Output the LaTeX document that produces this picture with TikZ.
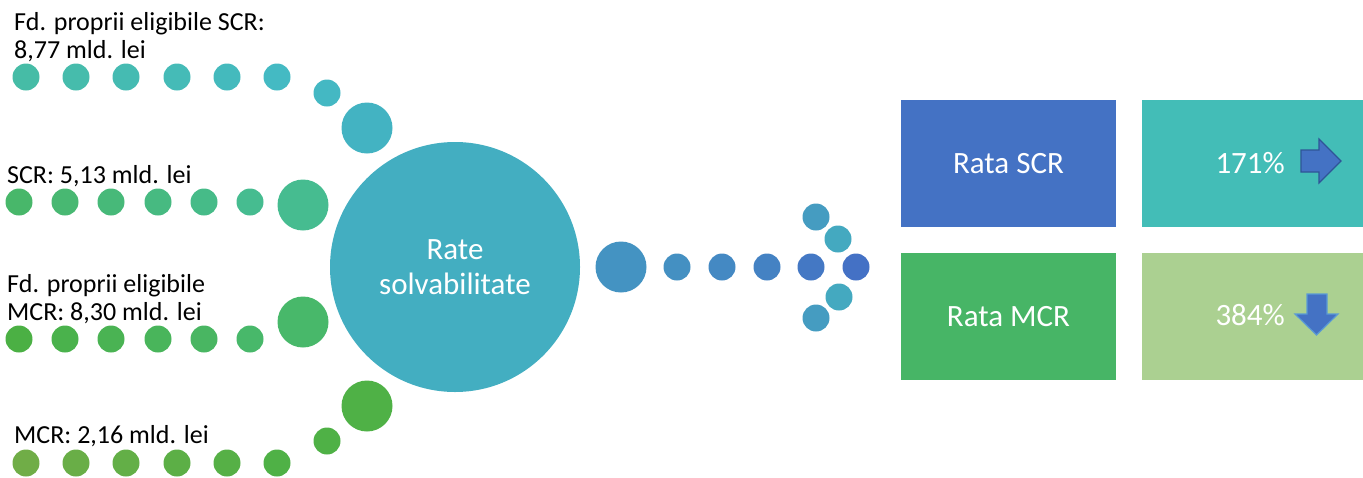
\documentclass[tikz,border=0pt]{standalone}
\usepackage{fontspec}
\setmainfont{Carlito}
\usepackage{xcolor}
\usetikzlibrary{positioning}
\definecolor{rowAa}{HTML}{46BCA6}
\definecolor{rowAb}{HTML}{44BAC3}
\definecolor{rowBa}{HTML}{48B76A}
\definecolor{rowBb}{HTML}{46BC90}
\definecolor{rowCa}{HTML}{4BB044}
\definecolor{rowCb}{HTML}{48B86A}
\definecolor{rowDa}{HTML}{70AD47}
\definecolor{rowDb}{HTML}{4FB146}
\definecolor{hubcol}{HTML}{43AEC1}
\definecolor{arrowa}{HTML}{4493C2}
\definecolor{arrowb}{HTML}{4471C5}
\definecolor{wingout}{HTML}{459CC1}
\definecolor{wingin}{HTML}{44A9C0}
\definecolor{scrcol}{HTML}{4472C4}
\definecolor{mcrcol}{HTML}{47B566}
\definecolor{scrval}{HTML}{43BDB7}
\definecolor{mcrval}{HTML}{ABD091}
\definecolor{arrowline}{HTML}{2F5597}
\definecolor{downline}{HTML}{5B9BD5}
\def\dotsize{27pt}
\def\bigsize{51pt}
\def\boxgap{26pt}
\tikzset{
  dot/.style={circle, inner sep=0pt, minimum size=\dotsize},
  bigdot/.style={circle, inner sep=0pt, minimum size=\bigsize},
  lbl/.style={inner sep=0pt, align=left, font=\fontsize{26}{28}\selectfont},
  ratebox/.style={inner sep=0pt, minimum width=215pt, minimum height=127pt, text=white, font=\fontsize{31}{35}\selectfont},
  valbox/.style={inner sep=0pt, minimum width=221pt, minimum height=127pt}
}

\begin{document}
\begin{tikzpicture}[x=1pt, y=-1pt]
\useasboundingbox (0,0) rectangle (1363,477);

% Fd. proprii SCR
\node[lbl, anchor=base west] (fpscr) at (14,58) {Fd. proprii eligibile SCR:\\8,77 mld. lei};
\node[dot, fill=rowAa] (a1) at (26,77) {};
\node[dot, fill=rowAa!80!rowAb] (a2) at (76,77) {};
\node[dot, fill=rowAa!60!rowAb] (a3) at (126,77) {};
\node[dot, fill=rowAa!40!rowAb] (a4) at (177,77) {};
\node[dot, fill=rowAa!20!rowAb] (a5) at (227,77) {};
\node[dot, fill=rowAb] (a6) at (277,77) {};
\node[dot, fill=rowAb!80!hubcol] (a7) at (327,93) {};
\node[bigdot, fill=rowAb!40!hubcol] (a8) at (367,128) {};

% SCR
\node[lbl, anchor=base west] (scr) at (7,183) {SCR: 5,13 mld. lei};
\node[dot, fill=rowBa] (b1) at (19,202) {};
\node[dot, fill=rowBa!80!rowBb] (b2) at (65,202) {};
\node[dot, fill=rowBa!60!rowBb] (b3) at (111,202) {};
\node[dot, fill=rowBa!40!rowBb] (b4) at (158,202) {};
\node[dot, fill=rowBa!20!rowBb] (b5) at (204,202) {};
\node[dot, fill=rowBb] (b6) at (250,202) {};
\node[bigdot, fill=rowBb] (b7) at (303,205) {};

% Fd. proprii MCR
\node[lbl, anchor=base west] (fpmcr) at (7,320) {Fd. proprii eligibile\\MCR: 8,30 mld. lei};
\node[dot, fill=rowCa] (c1) at (19,339) {};
\node[dot, fill=rowCa!80!rowCb] (c2) at (65,339) {};
\node[dot, fill=rowCa!60!rowCb] (c3) at (111,339) {};
\node[dot, fill=rowCa!40!rowCb] (c4) at (158,339) {};
\node[dot, fill=rowCa!20!rowCb] (c5) at (204,339) {};
\node[dot, fill=rowCb] (c6) at (250,339) {};
\node[bigdot, fill=rowCb] (c7) at (303,322) {};

% MCR
\node[lbl, anchor=base west] (mcr) at (14,443) {MCR: 2,16 mld. lei};
\node[dot, fill=rowDa] (d1) at (26,463) {};
\node[dot, fill=rowDa!80!rowDb] (d2) at (76,463) {};
\node[dot, fill=rowDa!60!rowDb] (d3) at (126,463) {};
\node[dot, fill=rowDa!40!rowDb] (d4) at (177,463) {};
\node[dot, fill=rowDa!20!rowDb] (d5) at (227,463) {};
\node[dot, fill=rowDb] (d6) at (277,463) {};
\node[dot, fill=rowDb] (d7) at (327,441) {};
\node[bigdot, fill=rowDb] (d8) at (367,406) {};

% Hub
\node[circle, inner sep=0pt, minimum size=250pt, fill=hubcol] (hub) at (455,267) {};
\node[inner sep=0pt, align=center, text=white, font=\fontsize{31}{35}\selectfont, anchor=base] (hubtext) at (455,294) {Rate\\solvabilitate};

% Arrow of dots
\node[bigdot, fill=arrowa] (e0) at (621,267) {};
\node[dot, fill=arrowa!90!arrowb] (e1) at (677,267) {};
\node[dot, fill=arrowa!70!arrowb] (e2) at (722,267) {};
\node[dot, fill=arrowa!50!arrowb] (e3) at (767,267) {};
\node[dot, fill=arrowa!20!arrowb] (e4) at (811,267) {};
\node[dot, fill=arrowb] (e5) at (856,267) {};
\node[dot, fill=wingout] (w1) at (816,217) {};
\node[dot, fill=wingin] (w2) at (838,239) {};
\node[dot, fill=wingin] (w3) at (839,297) {};
\node[dot, fill=wingout] (w4) at (816,318) {};

% Boxes
\node[ratebox, fill=scrcol] (ratascr) at (1008.5,163.5) {Rata SCR};
\node[ratebox, fill=mcrcol, below=\boxgap of ratascr] (ratamcr) {Rata MCR};
\node[valbox, fill=scrval, right=\boxgap of ratascr] (valscr) {};
\node[valbox, fill=mcrval, right=\boxgap of ratamcr] (valmcr) {};
\node[inner sep=0pt, anchor=base east, text=white, font=\fontsize{31}{35}\selectfont] (pscr) at (1285,173) {171\%};
\node[inner sep=0pt, anchor=base east, text=white, font=\fontsize{31}{35}\selectfont] (pmcr) at (1285,325) {384\%};

% Up/down marks
\draw[arrowline, line width=1.2pt, fill=scrcol] (1301,150) -- (1319,150) -- (1319,139) -- (1341,161) -- (1319,183) -- (1319,172) -- (1301,172) -- cycle;
\draw[downline, line width=1.2pt, fill=scrcol] (1307,294) -- (1327,294) -- (1327,314) -- (1338,314) -- (1316.5,335) -- (1295,314) -- (1307,314) -- cycle;

\end{tikzpicture}
\end{document}
